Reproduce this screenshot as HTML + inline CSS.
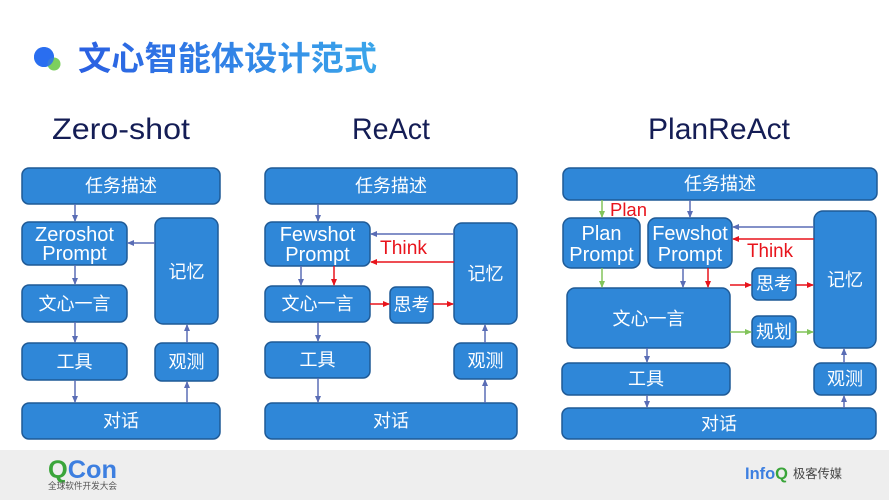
<!DOCTYPE html>
<html><head><meta charset="utf-8"><style>
html,body{margin:0;padding:0;background:#fff;}
svg{display:block;}
text{font-family:"Liberation Sans","Noto Sans CJK SC",sans-serif;}
.n{fill:#2f87d8;stroke:#1f5a96;stroke-width:1.5;}
.t{fill:#fff;font-size:18px;text-anchor:middle;}
.e{fill:#fff;font-size:20px;text-anchor:middle;}
.b{stroke:#5a6db5;stroke-width:1.5;fill:none;}
.r{stroke:#e8141c;stroke-width:1.5;fill:none;}
.g{stroke:#82c45a;stroke-width:1.5;fill:none;}
.h{fill:#141d55;font-size:30px;}
</style></head><body>
<svg width="889" height="500" viewBox="0 0 889 500" xmlns="http://www.w3.org/2000/svg">
<defs>
<linearGradient id="hg" x1="0" x2="1" y1="0" y2="0"><stop offset="0" stop-color="#2a5fe2"/><stop offset="1" stop-color="#3aa6ea"/></linearGradient>
<marker id="mb" markerWidth="7" markerHeight="7" refX="6" refY="3.5" orient="auto" markerUnits="userSpaceOnUse"><path d="M0,0.5 L7,3.5 L0,6.5 z" fill="#5a6db5"/></marker>
<marker id="mr" markerWidth="7" markerHeight="7" refX="6" refY="3.5" orient="auto" markerUnits="userSpaceOnUse"><path d="M0,0.5 L7,3.5 L0,6.5 z" fill="#e8141c"/></marker>
<marker id="mg" markerWidth="7" markerHeight="7" refX="6" refY="3.5" orient="auto" markerUnits="userSpaceOnUse"><path d="M0,0.5 L7,3.5 L0,6.5 z" fill="#82c45a"/></marker>
</defs>

<!-- header -->
<circle cx="44" cy="57" r="10" fill="#2a6ff0"/>
<circle cx="54" cy="64" r="6.5" fill="#7ccf5e"/>
<circle cx="44" cy="57" r="10" fill="#2a6ff0" opacity="0.85"/>
<text x="78" y="70" font-size="33" font-weight="bold" fill="url(#hg)" textLength="299" lengthAdjust="spacingAndGlyphs">文心智能体设计范式</text>

<text class="h" x="52" y="139" textLength="138" lengthAdjust="spacingAndGlyphs">Zero-shot</text>
<text class="h" x="352" y="139" textLength="78" lengthAdjust="spacingAndGlyphs">ReAct</text>
<text class="h" x="648" y="139" textLength="142" lengthAdjust="spacingAndGlyphs">PlanReAct</text>

<!-- LEFT -->
<rect class="n" x="22" y="168" width="198" height="36" rx="7"/><text class="t" x="121" y="192">任务描述</text>
<rect class="n" x="22" y="222" width="105" height="43" rx="7"/><text class="e" x="74.5" y="241">Zeroshot</text><text class="e" x="74.5" y="260">Prompt</text>
<rect class="n" x="22" y="285" width="105" height="37" rx="7"/><text class="t" x="74.5" y="310">文心一言</text>
<rect class="n" x="22" y="343" width="105" height="37" rx="7"/><text class="t" x="74.5" y="368">工具</text>
<rect class="n" x="22" y="403" width="198" height="36" rx="7"/><text class="t" x="121" y="427">对话</text>
<rect class="n" x="155" y="218" width="63" height="106" rx="8"/><text class="t" x="186.5" y="278">记忆</text>
<rect class="n" x="155" y="343" width="63" height="38" rx="7"/><text class="t" x="186.5" y="368">观测</text>
<line class="b" x1="75" y1="204" x2="75" y2="221" marker-end="url(#mb)"/>
<line class="b" x1="155" y1="243" x2="128" y2="243" marker-end="url(#mb)"/>
<line class="b" x1="75" y1="265" x2="75" y2="284" marker-end="url(#mb)"/>
<line class="b" x1="75" y1="322" x2="75" y2="342" marker-end="url(#mb)"/>
<line class="b" x1="75" y1="380" x2="75" y2="402" marker-end="url(#mb)"/>
<line class="b" x1="187" y1="403" x2="187" y2="382" marker-end="url(#mb)"/>
<line class="b" x1="187" y1="343" x2="187" y2="325" marker-end="url(#mb)"/>

<!-- MIDDLE -->
<rect class="n" x="265" y="168" width="252" height="36" rx="7"/><text class="t" x="391" y="192">任务描述</text>
<rect class="n" x="265" y="222" width="105" height="44" rx="7"/><text class="e" x="317.5" y="241">Fewshot</text><text class="e" x="317.5" y="261">Prompt</text>
<rect class="n" x="265" y="286" width="105" height="36" rx="7"/><text class="t" x="317.5" y="310">文心一言</text>
<rect class="n" x="390" y="287" width="43" height="36" rx="6"/><text class="t" x="411.5" y="311">思考</text>
<rect class="n" x="265" y="342" width="105" height="36" rx="7"/><text class="t" x="317.5" y="366">工具</text>
<rect class="n" x="265" y="403" width="252" height="36" rx="7"/><text class="t" x="391" y="427">对话</text>
<rect class="n" x="454" y="223" width="63" height="101" rx="8"/><text class="t" x="485.5" y="280">记忆</text>
<rect class="n" x="454" y="343" width="63" height="36" rx="7"/><text class="t" x="485.5" y="367">观测</text>
<line class="b" x1="318" y1="204" x2="318" y2="221" marker-end="url(#mb)"/>
<line class="b" x1="454" y1="234" x2="371" y2="234" marker-end="url(#mb)"/>
<line class="r" x1="454" y1="262" x2="371" y2="262" marker-end="url(#mr)"/>
<text x="380" y="254" font-size="19" fill="#e8141c" textLength="47" lengthAdjust="spacingAndGlyphs">Think</text>
<line class="b" x1="301" y1="266" x2="301" y2="285" marker-end="url(#mb)"/>
<line class="r" x1="334" y1="266" x2="334" y2="285" marker-end="url(#mr)"/>
<line class="r" x1="370" y1="304" x2="389" y2="304" marker-end="url(#mr)"/>
<line class="r" x1="433" y1="304" x2="453" y2="304" marker-end="url(#mr)"/>
<line class="b" x1="318" y1="322" x2="318" y2="341" marker-end="url(#mb)"/>
<line class="b" x1="318" y1="378" x2="318" y2="402" marker-end="url(#mb)"/>
<line class="b" x1="485" y1="403" x2="485" y2="380" marker-end="url(#mb)"/>
<line class="b" x1="485" y1="343" x2="485" y2="325" marker-end="url(#mb)"/>

<!-- RIGHT -->
<rect class="n" x="563" y="168" width="314" height="32" rx="7"/><text class="t" x="720" y="190">任务描述</text>
<rect class="n" x="563" y="218" width="77" height="50" rx="8"/><text class="e" x="601.5" y="240">Plan</text><text class="e" x="601.5" y="261">Prompt</text>
<rect class="n" x="648" y="218" width="84" height="50" rx="8"/><text class="e" x="690" y="240">Fewshot</text><text class="e" x="690" y="261">Prompt</text>
<rect class="n" x="567" y="288" width="163" height="60" rx="8"/><text class="t" x="648.5" y="325">文心一言</text>
<rect class="n" x="752" y="268" width="44" height="32" rx="6"/><text class="t" x="774" y="290">思考</text>
<rect class="n" x="752" y="316" width="44" height="31" rx="6"/><text class="t" x="774" y="338">规划</text>
<rect class="n" x="814" y="211" width="62" height="137" rx="9"/><text class="t" x="845" y="286">记忆</text>
<rect class="n" x="562" y="363" width="168" height="32" rx="7"/><text class="t" x="646" y="385">工具</text>
<rect class="n" x="814" y="363" width="62" height="32" rx="7"/><text class="t" x="845" y="385">观测</text>
<rect class="n" x="562" y="408" width="314" height="31" rx="7"/><text class="t" x="719" y="430">对话</text>
<line class="g" x1="602" y1="200" x2="602" y2="217" marker-end="url(#mg)"/>
<text x="610" y="216" font-size="18" fill="#e8141c" textLength="37" lengthAdjust="spacingAndGlyphs">Plan</text>
<line class="b" x1="690" y1="200" x2="690" y2="217" marker-end="url(#mb)"/>
<line class="b" x1="814" y1="227" x2="733" y2="227" marker-end="url(#mb)"/>
<line class="r" x1="814" y1="239" x2="733" y2="239" marker-end="url(#mr)"/>
<text x="747" y="257" font-size="19" fill="#e8141c" textLength="46" lengthAdjust="spacingAndGlyphs">Think</text>
<line class="g" x1="602" y1="268" x2="602" y2="287" marker-end="url(#mg)"/>
<line class="b" x1="683" y1="268" x2="683" y2="287" marker-end="url(#mb)"/>
<line class="r" x1="708" y1="268" x2="708" y2="287" marker-end="url(#mr)"/>
<line class="r" x1="730" y1="285" x2="751" y2="285" marker-end="url(#mr)"/>
<line class="r" x1="796" y1="285" x2="813" y2="285" marker-end="url(#mr)"/>
<line class="g" x1="730" y1="332" x2="751" y2="332" marker-end="url(#mg)"/>
<line class="g" x1="796" y1="332" x2="813" y2="332" marker-end="url(#mg)"/>
<line class="b" x1="647" y1="348" x2="647" y2="362" marker-end="url(#mb)"/>
<line class="b" x1="647" y1="395" x2="647" y2="407" marker-end="url(#mb)"/>
<line class="b" x1="844" y1="408" x2="844" y2="396" marker-end="url(#mb)"/>
<line class="b" x1="844" y1="363" x2="844" y2="349" marker-end="url(#mb)"/>

<!-- footer -->
<rect x="0" y="450" width="889" height="50" fill="#eeeeee"/>
<text x="48" y="478" font-size="25" font-weight="bold" textLength="69" lengthAdjust="spacingAndGlyphs"><tspan fill="#3aa53a">Q</tspan><tspan fill="#3d7fe0">Con</tspan></text>
<text x="48" y="489" font-size="9" fill="#555" textLength="69" lengthAdjust="spacingAndGlyphs">全球软件开发大会</text>
<text x="745" y="479" font-size="17" font-weight="bold" textLength="43" lengthAdjust="spacingAndGlyphs"><tspan fill="#3d7fe0">Info</tspan><tspan fill="#3aa53a">Q</tspan></text>
<text x="793" y="478" font-size="12.5" fill="#444" textLength="49" lengthAdjust="spacingAndGlyphs">极客传媒</text>
</svg>
</body></html>
